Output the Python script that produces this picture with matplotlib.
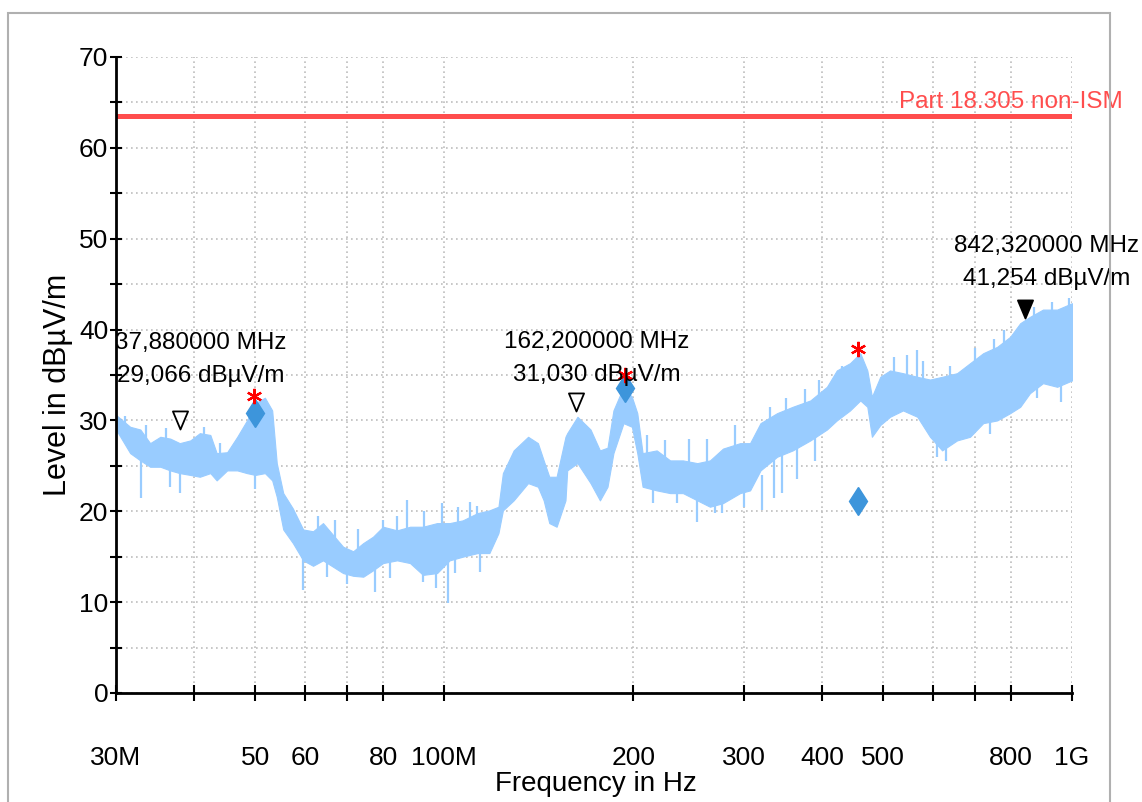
import matplotlib
matplotlib.use('Agg')
import matplotlib.pyplot as plt
from matplotlib.patches import Rectangle
from matplotlib.path import Path
import numpy as np

# trace envelope (MHz, dBµV/m)
freq = [30.0, 31.6, 32.8, 34.0, 35.3, 36.6, 37.9, 39.4, 40.8, 42.4, 43.4, 45.1,
        46.8, 48.5, 50.0, 51.8, 53.2, 54.1, 55.4, 57.4, 59.6, 61.8, 64.1, 66.5,
        69.0, 71.6, 74.3, 77.0, 79.9, 84.1, 88.2, 92.5, 97.4, 102, 107, 113,
        118, 122, 124, 129, 136, 141, 144, 147, 151, 156, 157, 163, 171, 177,
        182, 186, 193, 199, 203, 207, 218, 229, 240, 253, 265, 278, 296, 307,
        319, 339, 359, 383, 407, 422, 443, 460, 472, 480, 495, 513, 538, 567,
        594, 621, 656, 688, 722, 760, 797, 827, 857, 899, 947, 1000]
top = [30.6, 29.3, 29.0, 27.5, 28.2, 28.0, 27.5, 27.8, 28.6, 28.4, 26.4, 26.5,
       28.2, 30.0, 31.9, 32.5, 31.1, 25.3, 22.0, 20.3, 18.0, 17.8, 18.7, 17.4,
       16.1, 15.6, 16.5, 17.2, 18.3, 17.9, 18.3, 18.3, 18.7, 18.7, 19.0, 19.8,
       20.1, 20.5, 24.2, 26.7, 28.2, 27.5, 25.6, 23.8, 23.8, 28.2, 28.6, 30.4,
       29.0, 26.7, 27.0, 31.1, 33.7, 32.6, 30.8, 26.4, 26.7, 25.6, 25.6, 25.3,
       25.6, 26.9, 27.5, 27.5, 29.7, 30.8, 31.5, 32.2, 33.7, 35.5, 36.3, 37.4,
       35.5, 32.6, 34.8, 35.5, 35.2, 34.8, 34.5, 34.8, 35.2, 36.3, 37.4, 38.1,
       39.2, 40.7, 41.4, 42.2, 42.2, 42.9]
bottom = [29.0, 26.4, 25.6, 24.9, 24.9, 24.5, 24.2, 24.0, 23.8, 24.2, 23.4, 24.5,
          24.5, 24.2, 24.0, 24.2, 23.4, 21.6, 18.0, 16.5, 14.6, 14.0, 14.6, 13.9,
          13.2, 12.9, 12.8, 13.5, 14.3, 14.6, 14.3, 13.0, 13.2, 14.6, 15.0, 15.4,
          15.4, 17.6, 20.1, 21.2, 23.1, 22.7, 21.2, 18.7, 18.3, 21.2, 24.5, 25.3,
          23.1, 21.2, 22.7, 26.4, 29.7, 29.3, 26.4, 22.7, 22.3, 22.0, 22.0, 21.2,
          20.5, 20.9, 22.0, 22.3, 24.5, 26.0, 26.7, 27.8, 29.0, 30.0, 31.1, 32.2,
          31.5, 28.2, 29.5, 30.4, 31.1, 30.4, 28.2, 26.7, 27.8, 28.2, 29.7, 30.0,
          30.8, 31.5, 33.0, 34.1, 33.7, 34.4]

# single spikes sticking out of the band (MHz, low end, high end)
spike_f = [32.9, 36.6, 37.9, 50.0, 59.6, 77.5, 92.5, 97.0, 101.5, 114, 253, 277,
           321, 87.2, 99.1, 112.6, 545, 566, 990,
           31.0, 33.5, 36.0, 41.5, 44.0,
           63, 67, 73, 80, 84, 93, 105, 110, 65, 70, 82, 104,
           210, 225, 245, 262, 290, 215, 235, 270, 300,
           330, 350, 375, 395, 430, 335, 345, 365, 390,
           520, 580, 640, 700, 750, 780, 870, 930, 610, 630, 740, 880, 960]
spike_lo = [21.5, 22.7, 22.0, 22.5, 11.3, 11.1, 12.2, 11.6, 9.9, 13.3, 18.8, 19.8,
            20.1, 17.0, 17.0, 17.0, 33.0, 33.0, 38.0,
            28.0, 27.0, 26.0, 26.0, 25.0,
            16.0, 15.5, 15.0, 16.0, 16.5, 16.5, 17.0, 17.5, 12.8, 12.0, 12.7, 13.2,
            24.0, 24.0, 24.0, 24.0, 26.0, 20.9, 20.9, 19.8, 20.5,
            28.0, 29.0, 30.0, 31.0, 33.0, 21.5, 22.0, 23.5, 25.5,
            33.0, 33.0, 33.0, 35.0, 36.0, 37.0, 39.0, 40.0, 26.0, 25.5, 28.5, 32.5, 32.0]
spike_hi = [26.0, 26.0, 26.0, 26.0, 16.0, 15.0, 16.0, 16.0, 16.0, 17.0, 23.0, 23.0,
            24.0, 21.2, 20.9, 20.6, 37.2, 37.7, 43.5,
            30.5, 29.5, 29.2, 29.3, 27.5,
            19.5, 19.0, 18.0, 19.0, 19.5, 20.0, 20.5, 21.0, 15.0, 15.0, 15.0, 16.0,
            28.4, 27.8, 28.0, 28.0, 29.5, 24.0, 24.0, 23.0, 24.0,
            31.5, 32.5, 33.5, 34.5, 36.0, 26.0, 26.5, 27.5, 29.0,
            37.0, 36.5, 36.0, 38.0, 39.0, 40.0, 42.5, 43.0, 29.0, 29.0, 31.0, 35.0, 35.0]

limit_level = 63.5
limit_name = 'Part 18.305 non-ISM'

peak_f = [37.88, 162.2, 842.32]
peak_v = [29.066, 31.03, 41.254]
peak_filled = [False, False, True]
peak_dy = [86, 69, 72]  # text height above marker, px

star_f = [49.7, 194.0, 456.0]
star_v = [32.7, 35.0, 37.9]
diamond_f = [50.0, 194.0, 456.0]
diamond_v = [30.8, 33.6, 21.1]

xticks = [30, 40, 50, 60, 70, 80, 100, 200, 300, 400, 500, 600, 700, 800, 1000]
xlabels = ['30M', '', '50', '60', '', '80', '100M', '200', '300', '400', '500',
           '', '', '800', '1G']

plain = ['Liberation Sans', 'DejaVu Sans']

fig = plt.figure(figsize=(11.42, 8.02), dpi=100)
ax = fig.add_axes([116 / 1142, 1 - 693 / 802, 956 / 1142, 636 / 802])

ax.fill_between(freq, bottom, top, color='#99ccff', lw=0.8, edgecolor='#99ccff', zorder=2)
ax.vlines(spike_f, spike_lo, spike_hi, color='#99ccff', lw=1.6, zorder=2)

ax.plot([30, 1000], [limit_level, limit_level], color='#ff4d4d', lw=3.6, zorder=3,
        solid_capstyle='butt')
ax.text(1.053, 65.0, limit_name, transform=ax.get_yaxis_transform(), ha='right',
        va='center', color='#ff4d4d', fontsize=17.5, family=plain, clip_on=False)

tri = Path([(-0.42, 1.0), (0.42, 1.0), (0.0, 0.0), (-0.42, 1.0)],
           [Path.MOVETO, Path.LINETO, Path.LINETO, Path.CLOSEPOLY])
for f, v, filled, dy in zip(peak_f, peak_v, peak_filled, peak_dy):
    ax.plot(f, v, marker=tri, markersize=26, markerfacecolor='black' if filled else 'white',
            markeredgecolor='black', markeredgewidth=1.3, ls='none', zorder=5)
    ax.annotate(f'{f:.6f} MHz'.replace('.', ','), (f, v), xytext=(21, dy),
                textcoords='offset pixels', ha='center', va='center',
                fontsize=17.5, family=plain, zorder=6)
    ax.annotate(f'{v:.3f} dBµV/m'.replace('.', ','), (f, v), xytext=(21, dy - 33),
                textcoords='offset pixels', ha='center', va='center',
                fontsize=17.5, family=plain, zorder=6)

ax.plot(diamond_f, diamond_v, marker='d', markersize=14.5, color='#3d95db', ls='none', zorder=4)
ax.plot(star_f, star_v, marker=(6, 2, 0), markersize=11, color='red', mew=1.6,
        ls='none', zorder=4)

ax.set_xscale('log')
ax.set_xlim(30, 1000)
ax.set_ylim(0, 70)
ax.set_xticks(xticks)
ax.set_xticklabels(xlabels)
ax.xaxis.set_minor_locator(matplotlib.ticker.NullLocator())
ax.set_yticks(np.arange(0, 71, 10))
ax.set_yticks(np.arange(5, 70, 10), minor=True)

ax.grid(True, which='both', color='#bdbdbd', ls=(0, (1, 2)), lw=1.2, zorder=0)
for s in ['top', 'right']:
    ax.spines[s].set_visible(False)
for s in ['left', 'bottom']:
    ax.spines[s].set_linewidth(2)
    ax.spines[s].set_zorder(7)

ax.tick_params(axis='x', direction='inout', length=12, width=1.5, pad=32)
ax.tick_params(axis='y', which='both', direction='inout', length=8, width=1.5, pad=1.5)
for lab in ax.get_xticklabels() + ax.get_yticklabels():
    lab.set_family(plain)
    lab.set_fontsize(19)

ax.set_xlabel('Frequency in Hz', fontsize=20, family=plain)
ax.set_ylabel('Level in dBµV/m', fontsize=22, family=plain)
ax.xaxis.set_label_coords(0.502, -0.122)
ax.yaxis.set_label_coords(-0.045, 0.485)

fig.add_artist(Rectangle((8 / 1142, -0.1), 1102 / 1142, 1.1 - 13 / 802, transform=fig.transFigure,
                         fill=False, edgecolor='#b0b0b0', lw=1.5))

fig.savefig('out.png', dpi=100)
